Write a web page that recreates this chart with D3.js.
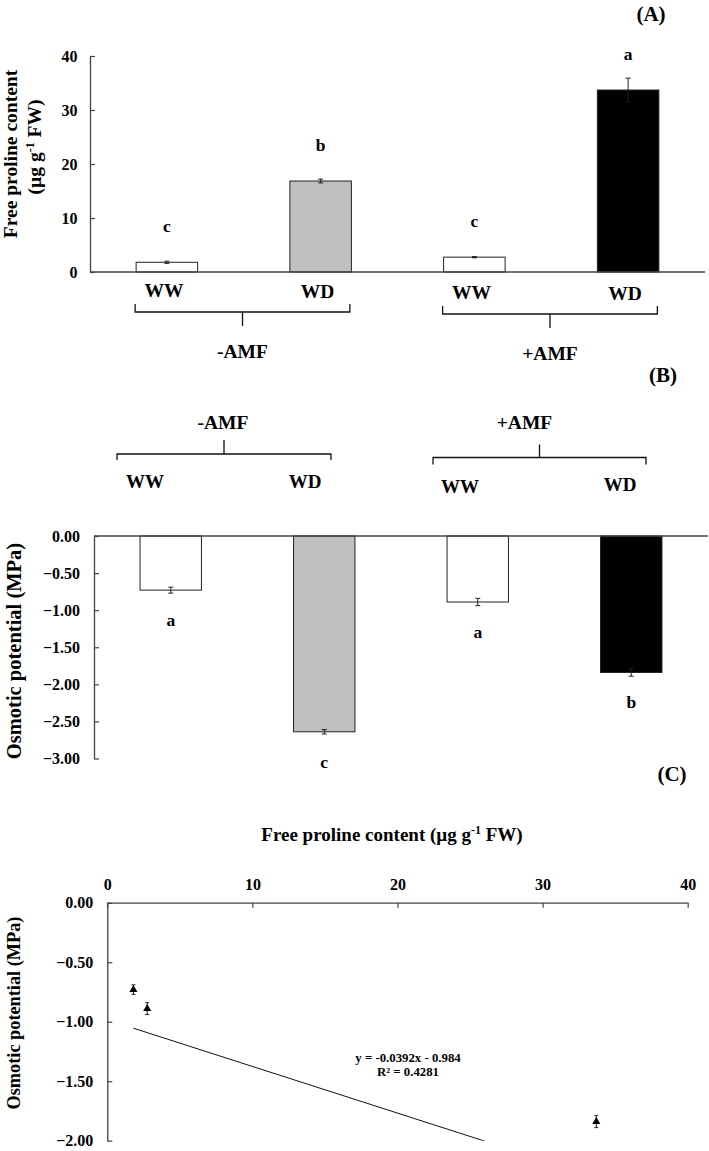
<!DOCTYPE html>
<html>
<head>
<meta charset="utf-8">
<script src="https://cdn.jsdelivr.net/npm/d3@7"></script>
<style>
  html, body { margin: 0; padding: 0; background: #fff; }
  svg { display: block; }
  text { font-family: "Liberation Serif", "Times New Roman", serif; font-weight: bold; fill: #000; }
</style>
</head>
<body>
<svg id="chart" width="709" height="1151"></svg>
<script>
// ---------------- DATA ----------------
const groups = ["-AMF", "-AMF", "+AMF", "+AMF"];
const treatments = ["WW", "WD", "WW", "WD"];
const barKeys = ["-AMF WW", "-AMF WD", "+AMF WW", "+AMF WD"];
const barFills = ["#ffffff", "#c0c0c0", "#ffffff", "#000000"];

const prolineMean = [1.8, 16.85, 2.75, 33.7];
const prolineErr = [0.2, 0.35, 0.12, 2.2];
const prolineLetters = ["c", "b", "c", "a"];

const osmoticMean = [-0.73, -2.64, -0.89, -1.84];
const osmoticErr = [0.04, 0.03, 0.05, 0.05];
const osmoticLetters = ["a", "c", "a", "b"];

const fitSlope = -0.0392;
const fitIntercept = -0.984;
const fitEquation = "y = -0.0392x - 0.984";
const fitR2 = "R\u00B2 = 0.4281";

const prolineTicks = [0, 10, 20, 30, 40];
const osmoticTicksB = [0, -0.5, -1, -1.5, -2, -2.5, -3];
const osmoticTicksC = [0, -0.5, -1, -1.5, -2];
const groupNames = ["-AMF", "+AMF"];

// ---------------- SETUP ----------------
const svg = d3.select("#chart");
const AXIS = "#444";
const bars = barKeys.map((k, i) => ({
  key: k, group: groups[i], trt: treatments[i], fill: barFills[i],
  pm: prolineMean[i], pe: prolineErr[i], pl: prolineLetters[i],
  om: osmoticMean[i], oe: osmoticErr[i], ol: osmoticLetters[i]
}));

function styleAxis(g, size) {
  g.selectAll("path.domain").attr("stroke", AXIS).attr("stroke-width", 1.3);
  g.selectAll(".tick line").attr("stroke", AXIS).attr("stroke-width", 1.2);
  g.selectAll(".tick text")
    .attr("font-family", "'Liberation Serif', 'Times New Roman', serif")
    .attr("font-weight", "bold").attr("font-size", size).attr("fill", "#000");
}
function errBar(g, x, y1, y2, cap) {
  g.append("line").attr("x1", x).attr("x2", x).attr("y1", y1).attr("y2", y2)
    .attr("stroke", "#222").attr("stroke-width", 1);
  [y1, y2].forEach(yy => g.append("line").attr("x1", x - cap).attr("x2", x + cap)
    .attr("y1", yy).attr("y2", yy).attr("stroke", "#222").attr("stroke-width", 1));
}
function bracket(g, x1, x2, y, endDy, midDy) {
  const xm = (x1 + x2) / 2;
  g.append("path")
    .attr("d", `M${x1},${y + endDy}L${x1},${y}L${x2},${y}L${x2},${y + endDy}M${xm},${y}L${xm},${y + midDy}`)
    .attr("fill", "none").attr("stroke", "#111").attr("stroke-width", 1.3);
  return xm;
}

// ---------------- PANEL A ----------------
const gA = svg.append("g");
const xA = d3.scaleBand().domain(barKeys).range([90, 705]).paddingInner(0.6).paddingOuter(0.3);
const yA = d3.scaleLinear().domain([0, 40]).range([272, 56]);

gA.selectAll("rect.bar").data(bars).join("rect")
  .attr("x", d => xA(d.key)).attr("width", xA.bandwidth())
  .attr("y", d => yA(d.pm)).attr("height", d => yA(0) - yA(d.pm))
  .attr("fill", d => d.fill).attr("stroke", "#222").attr("stroke-width", 1);

bars.forEach(d => errBar(gA, xA(d.key) + xA.bandwidth() / 2, yA(d.pm + d.pe), yA(d.pm - d.pe), 2.5));

gA.selectAll("text.let").data(bars).join("text")
  .attr("x", d => xA(d.key) + xA.bandwidth() / 2).attr("y", d => yA(d.pm) - 30)
  .attr("text-anchor", "middle").attr("font-size", 17.5).text(d => d.pl);

const axA = gA.append("g").attr("transform", "translate(90,0)")
  .call(d3.axisLeft(yA).tickValues(prolineTicks).tickSize(-5).tickSizeOuter(0).tickPadding(12.5).tickFormat(d3.format("d")));
styleAxis(axA, 16);
gA.append("line").attr("x1", 90).attr("x2", 705).attr("y1", yA(0)).attr("y2", yA(0))
  .attr("stroke", AXIS).attr("stroke-width", 1.3);

gA.selectAll("text.trt").data(bars).join("text")
  .attr("x", d => xA(d.key) + xA.bandwidth() / 2 - 3).attr("y", (d, i) => 297 + i)
  .attr("text-anchor", "middle").attr("font-size", 19.5).text(d => d.trt);

groupNames.forEach((gname, gi) => {
  const members = bars.filter(b => b.group === gname);
  const x1 = xA(members[0].key) - 1;
  const x2 = xA(members[members.length - 1].key) + xA.bandwidth() - 1.5;
  const yb = 312 + gi * 2;
  const xm = bracket(gA, x1, x2, yb, -8, 14);
  gA.append("text").attr("x", xm).attr("y", 358 + gi * 1.5).attr("text-anchor", "middle")
    .attr("font-size", 19.5).text(gname);
});

gA.append("text").attr("transform", "translate(17,154) rotate(-90)").attr("text-anchor", "middle")
  .attr("font-size", 19.5).text("Free proline content");
const tA2 = gA.append("text").attr("transform", "translate(41,147) rotate(-90)").attr("text-anchor", "middle")
  .attr("font-size", 19.5);
tA2.append("tspan").text("(\u00B5g g");
tA2.append("tspan").attr("font-size", 12).attr("dy", -7).text("-1");
tA2.append("tspan").attr("dy", 7).text(" FW)");

svg.append("text").attr("x", 651).attr("y", 21).attr("text-anchor", "middle").attr("font-size", 21).text("(A)");

// ---------------- PANEL B ----------------
const gB = svg.append("g");
const xB = d3.scaleBand().domain(barKeys).range([94, 708]).paddingInner(0.6).paddingOuter(0.3);
const yB = d3.scaleLinear().domain([-3, 0]).range([758.5, 536]);

svg.append("text").attr("x", 663).attr("y", 382).attr("text-anchor", "middle").attr("font-size", 21).text("(B)");

// group labels above panel B
const bLayout = [
  { x1: 117, x2: 331, y: 454, endDy: 6, midDy: -14, labY: 428.5, trtX: [145, 305], trtY: [488, 488] },
  { x1: 433, x2: 646, y: 457.5, endDy: 7, midDy: -13, labY: 428.5, trtX: [460, 620], trtY: [493, 491] }
];
groupNames.forEach((gname, gi) => {
  const L = bLayout[gi];
  const xm = bracket(gB, L.x1, L.x2, L.y, L.endDy, L.midDy);
  gB.append("text").attr("x", xm + (gi === 0 ? -1 : -15)).attr("y", L.labY).attr("text-anchor", "middle")
    .attr("font-size", 19.5).text(gname);
  const members = bars.filter(b => b.group === gname);
  members.forEach((m, j) => {
    gB.append("text").attr("x", L.trtX[j]).attr("y", L.trtY[j]).attr("text-anchor", "middle")
      .attr("font-size", 19).text(m.trt);
  });
});

gB.selectAll("rect.bar").data(bars).join("rect")
  .attr("x", d => xB(d.key)).attr("width", xB.bandwidth())
  .attr("y", yB(0)).attr("height", d => yB(d.om) - yB(0))
  .attr("fill", d => d.fill).attr("stroke", "#222").attr("stroke-width", 1);

bars.forEach(d => errBar(gB, xB(d.key) + xB.bandwidth() / 2, yB(d.om + d.oe), yB(d.om - d.oe), 2.5));

gB.selectAll("text.let").data(bars).join("text")
  .attr("x", d => xB(d.key) + xB.bandwidth() / 2).attr("y", d => yB(d.om) + 36)
  .attr("text-anchor", "middle").attr("font-size", 17.5).text(d => d.ol);

const axB = gB.append("g").attr("transform", "translate(94,0)")
  .call(d3.axisLeft(yB).tickValues(osmoticTicksB).tickSize(-5).tickSizeOuter(0).tickPadding(14).tickFormat(d3.format(".2f")));
styleAxis(axB, 16);
gB.append("line").attr("x1", 94).attr("x2", 708).attr("y1", yB(0)).attr("y2", yB(0))
  .attr("stroke", AXIS).attr("stroke-width", 1.3);

gB.append("text").attr("transform", "translate(21,651) rotate(-90)").attr("text-anchor", "middle")
  .attr("font-size", 20.5).text("Osmotic potential (MPa)");

// ---------------- PANEL C ----------------
const gC = svg.append("g");
const xC = d3.scaleLinear().domain([0, 40]).range([107.3, 687.7]);
const yC = d3.scaleLinear().domain([-2, 0]).range([1140.7, 902.7]);

svg.append("text").attr("x", 672).attr("y", 781).attr("text-anchor", "middle").attr("font-size", 21).text("(C)");

const tC = gC.append("text").attr("x", 392).attr("y", 841).attr("text-anchor", "middle").attr("font-size", 19);
tC.append("tspan").text("Free proline content (\u00B5g g");
tC.append("tspan").attr("font-size", 12).attr("dy", -7).text("-1");
tC.append("tspan").attr("dy", 7).text(" FW)");

gC.append("defs").append("clipPath").attr("id", "clipC").append("rect")
  .attr("x", xC(0)).attr("y", yC(0)).attr("width", xC(40) - xC(0)).attr("height", yC(-2) - yC(0));
const plotC = gC.append("g").attr("clip-path", "url(#clipC)");

const xs = d3.extent(prolineMean);
plotC.append("line")
  .attr("x1", xC(xs[0])).attr("y1", yC(fitSlope * xs[0] + fitIntercept))
  .attr("x2", xC(xs[1])).attr("y2", yC(fitSlope * xs[1] + fitIntercept))
  .attr("stroke", "#111").attr("stroke-width", 1);

bars.forEach(d => {
  const cx = xC(d.pm), cy = yC(d.om);
  errBar(plotC, cx, yC(d.om + d.oe), yC(d.om - d.oe), 2);
  plotC.append("path").attr("d", d3.symbol(d3.symbolTriangle, 28)())
    .attr("transform", `translate(${cx},${cy})`).attr("fill", "#000");
});

const axCx = gC.append("g").attr("transform", `translate(0,${yC(0)})`)
  .call(d3.axisTop(xC).tickValues(prolineTicks).tickSize(-5).tickSizeOuter(0).tickPadding(12.5).tickFormat(d3.format("d")));
styleAxis(axCx, 16);
const axCy = gC.append("g").attr("transform", `translate(${xC(0)},0)`)
  .call(d3.axisLeft(yC).tickValues(osmoticTicksC).tickSize(-5).tickSizeOuter(0).tickPadding(14).tickFormat(d3.format(".2f")));
styleAxis(axCy, 16);

gC.append("text").attr("x", 408).attr("y", 1062).attr("text-anchor", "middle").attr("font-size", 12.8).text(fitEquation);
gC.append("text").attr("x", 408).attr("y", 1076).attr("text-anchor", "middle").attr("font-size", 12.8).text(fitR2);

gC.append("text").attr("transform", "translate(20,1013) rotate(-90)").attr("text-anchor", "middle")
  .attr("font-size", 18.3).text("Osmotic potential (MPa)");
</script>
</body>
</html>
